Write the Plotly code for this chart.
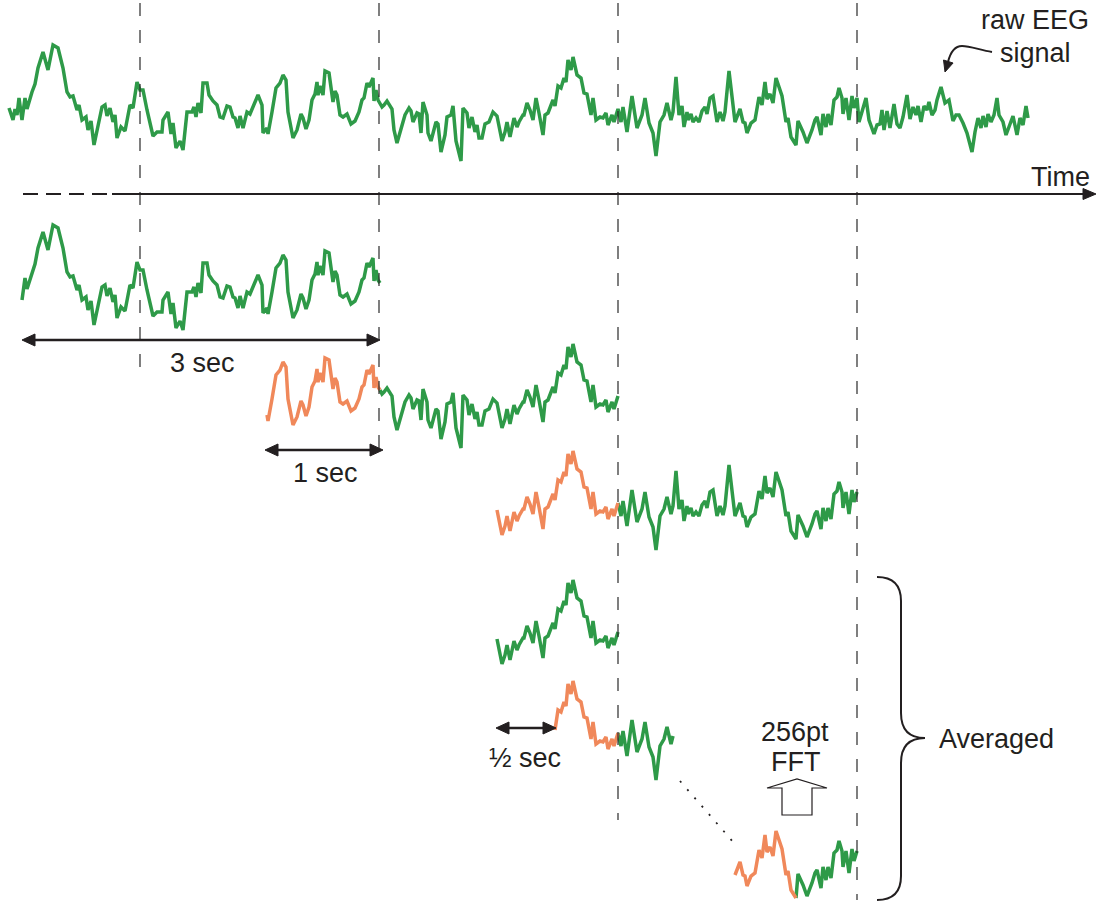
import plotly.graph_objects as go

# ---------------- data: raw EEG trace (time in ticks, 119.5 ticks = 1 sec; amplitude arbitrary units)
eeg_t = [9, 13, 15, 17, 19, 22, 25, 27, 32, 35, 38, 43, 48, 53, 58, 63, 67, 70, 73, 77, 79, 82, 86, 88, 91, 94,
         102, 105, 107, 110, 113, 115, 117, 121, 125, 130, 133, 137, 140, 143, 147, 153, 157, 162, 163, 168, 171,
         173, 176, 180, 183, 187, 192, 194, 196, 198, 201, 203, 207, 209, 213, 217, 220, 223, 227, 230, 233, 235,
         238, 240, 243, 247, 250, 254, 258, 262, 263, 267, 268, 272, 276, 280, 283, 286, 288, 293, 297, 301, 303,
         306, 309, 312, 315, 317, 318, 320, 323, 325, 329, 333, 335, 337, 340, 343, 347, 351, 355, 359, 362, 364,
         367, 369, 373, 374, 376, 378, 380, 382, 384, 387, 392, 394, 397, 402, 405, 409, 411, 413, 417, 419, 421,
         423, 427, 428, 431, 436, 438, 441, 445, 447, 451, 453, 456, 461, 463, 467, 469, 472, 475, 477, 479, 482,
         485, 489, 493, 497, 498, 502, 505, 507, 510, 514, 517, 519, 523, 524, 527, 530, 533, 536, 539, 543, 545,
         548, 553, 555, 558, 561, 564, 566, 568, 571, 573, 577, 581, 584, 587, 591, 593, 596, 600, 603, 606, 608,
         612, 614, 618, 621, 623, 627, 632, 637, 642, 645, 649, 653, 656, 660, 664, 667, 671, 673, 676, 679, 682,
         684, 687, 688, 691, 693, 696, 699, 702, 705, 707, 710, 713, 717, 720, 723, 725, 729, 735, 740, 743, 745,
         747, 751, 755, 759, 762, 765, 767, 770, 773, 776, 782, 786, 788, 791, 796, 798, 803, 807, 812, 815, 817,
         821, 823, 826, 828, 831, 834, 837, 839, 842, 843, 846, 849, 852, 854, 857, 859, 863, 866, 869, 874, 877,
         880, 882, 884, 887, 890, 894, 897, 900, 903, 907, 910, 913, 916, 918, 921, 924, 927, 929, 932, 935, 937,
         941, 945, 949, 953, 956, 959, 963, 967, 972, 975, 978, 981, 983, 986, 988, 991, 994, 997, 999, 1003,
         1006, 1010, 1013, 1017, 1020, 1023, 1026, 1028]
eeg_amp = [-8, -20, -9, -15, 2, -20, 2, -9, 8, 16, 32, 48, 30, 55, 52, 32, 8, 3, 4, -10, -5, -20, -17, -30, -21, -45,
           -7, -5, -16, -8, -22, -15, -38, -27, -31, -5, -8, 18, 10, 10, -10, -36, -32, -32, -20, -12, -34,
           -23, -48, -41, -50, -12, -12, -7, -17, -3, -13, 17, 17, 5, -1, -5, -17, -18, -6, -7, -17, -18,
           -28, -16, -28, -12, -14, -5, 5, -5, -33, -28, -34, -12, 12, 17, 25, 20, -12, -38, -30, -14, -18,
           -29, -20, 0, 6, 18, 5, 14, 5, 29, 27, -2, 9, 5, -15, -17, -14, -24, -21, -12, 0, 2,
           17, 13, 22, -1, 10, 0, -3, -7, -5, -1, -9, -30, -43, -27, -15, -8, -11, -22, -13, -14, -33,
           -2, -15, -33, -41, -22, -24, -52, -35, -17, -15, -6, -41, -61, -8, -13, -28, -17, -32, -25, -38, -38,
           -24, -22, -12, -16, -22, -41, -32, -22, -37, -18, -27, -22, -15, -15, -3, -10, -20, 2, -13, -35, -15,
           -13, 0, -6, 14, 12, 22, 18, 40, 30, 43, 25, 22, 7, 6, -15, 2, -20, -17, -18, -13, -25,
           -15, -22, -9, -22, -7, -32, 4, -28, -15, 2, -23, -33, -56, -22, -15, -3, -20, -12, 23, -15, -6,
           -27, -12, -20, -14, -22, -18, -22, -11, -7, -14, 2, 4, -22, -12, -21, -12, 29, -22, -9, -22, -23,
           -33, -23, -20, 3, -5, 18, 1, 6, -3, 22, 4, -22, -18, -37, -45, -21, -32, -43, -30, -20, -17,
           -35, -14, -27, -14, -25, 0, 3, 12, 2, -14, 2, -20, 4, -8, 2, -22, -7, 2, -20, -34, -25,
           -24, -10, -30, -11, -28, -4, -24, -28, -17, 5, -19, -7, -15, -6, -22, -6, -10, -2, -15, -10, 0,
           13, -3, 0, -21, -15, -15, -23, -33, -52, -32, -18, -28, -16, -27, -14, -22, -15, 2, -15, -22,
           -35, -25, -16, -35, -18, -25, -6, -18]

# ---------------- windows cut from the trace (ticks) and how far each copy is dropped
seg_start = [22, 265, 497, 497, 555, 735]
seg_split = [None, 380, 618, None, 618, 796]   # overlapping (orange) part ends here
seg_end = [380, 618, 857, 618, 675, 857]
seg_drop = [180, 287, 394, 523, 624, 753]

window_marks = [140, 379, 618, 857]
mark_bottom = [380, 452, 820, 900]

GREEN = "#2e9a48"
ORANGE = "#f0885a"
INK = "#231f20"
FONT = "Liberation Sans, Arial, sans-serif"


def A(ypx):
    """page row -> amplitude coordinate"""
    return 100 - ypx


fig = go.Figure()


def add_line(ts, amps, color):
    fig.add_trace(go.Scatter(x=ts, y=amps, mode="lines", line=dict(color=color, width=3.5),
                             hoverinfo="skip", showlegend=False))


# raw trace
add_line(eeg_t, eeg_amp, GREEN)

# segmented copies
for s, sp, e, d in zip(seg_start, seg_split, seg_end, seg_drop):
    pts = [(t, a - d) for t, a in zip(eeg_t, eeg_amp) if s <= t <= e]
    if sp is None:
        add_line([p[0] for p in pts], [p[1] for p in pts], GREEN)
    else:
        orange = [p for p in pts if p[0] <= sp]
        green = [orange[-1]] + [p for p in pts if p[0] > sp]
        add_line([p[0] for p in green], [p[1] for p in green], GREEN)
        add_line([p[0] for p in orange], [p[1] for p in orange], ORANGE)

shapes = []

# vertical dashed window markers
for xm, yb in zip(window_marks, mark_bottom):
    shapes.append(dict(type="line", x0=xm, x1=xm, y0=A(3), y1=A(yb),
                       line=dict(color="#2a2a2a", width=1.2, dash="13px,14px")))


def tri(tipx, tipy, dx, dy, L=13, W=6):
    # tip at (tipx,tipy) in page px; (dx,dy) unit direction of arrow (page px)
    bx, by = tipx - dx * L, tipy - dy * L
    px, py = -dy, dx
    p1 = (bx + px * W, by + py * W)
    p2 = (bx - px * W, by - py * W)
    return dict(type="path", path=f"M {tipx},{A(tipy)} L {p1[0]},{A(p1[1])} L {p2[0]},{A(p2[1])} Z",
                fillcolor=INK, line=dict(color=INK, width=1))


def dbl_arrow(x0, x1, y):
    shapes.append(dict(type="line", x0=x0 + 8, x1=x1 - 8, y0=A(y), y1=A(y), line=dict(color=INK, width=2.5)))
    shapes.append(tri(x0, y, -1, 0))
    shapes.append(tri(x1, y, 1, 0))


# time axis
shapes.append(dict(type="line", x0=23, x1=112, y0=A(194), y1=A(194),
                   line=dict(color=INK, width=1.8, dash="15px,8px")))
shapes.append(dict(type="line", x0=112, x1=1086, y0=A(194), y1=A(194), line=dict(color=INK, width=2)))
shapes.append(tri(1096, 194, 1, 0, L=13, W=5.5))

dbl_arrow(22, 380, 340)
dbl_arrow(265, 383, 450)
dbl_arrow(496, 556, 728)

# dotted connector
shapes.append(dict(type="line", x0=680, x1=734, y0=A(781), y1=A(843),
                   line=dict(color=INK, width=1.8, dash="2px,9px")))

# hollow up arrow (FFT)
shapes.append(dict(type="path",
                   path=f"M 782,{A(815)} L 782,{A(788)} L 767,{A(788)} L 797,{A(779)} L 827,{A(788)} "
                        f"L 812,{A(788)} L 812,{A(815)} Z",
                   line=dict(color=INK, width=1.2), fillcolor="white"))

# bracket
shapes.append(dict(type="path",
                   path=f"M 877,{A(577)} Q 901,{A(577)} 901,{A(601)} L 901,{A(713)} "
                        f"Q 901,{A(738)} 925,{A(738)} Q 901,{A(738)} 901,{A(763)} "
                        f"L 901,{A(876)} Q 901,{A(900)} 877,{A(900)}",
                   line=dict(color=INK, width=2)))

# curved pointer to raw signal
shapes.append(dict(type="path",
                   path=f"M 992,{A(52)} C 980,{A(50)} 970,{A(46)} 962,{A(46)} C 954,{A(46)} 950,{A(54)} 948,{A(62)}",
                   line=dict(color=INK, width=2)))
shapes.append(tri(945, 72, -0.3, 0.954, L=11, W=5))

texts = [
    ("raw EEG", 1035, 20, "center"),
    ("signal", 1035, 53, "center"),
    ("Time", 1060, 177, "center"),
    ("3 sec", 202, 363, "center"),
    ("1 sec", 325, 473, "center"),
    ("½ sec", 525, 758, "center"),
    ("256pt", 795, 732, "center"),
    ("FFT", 795, 762, "center"),
    ("Averaged", 937, 739, "left"),
]
annotations = [dict(text=t, x=x, y=A(y), xref="x", yref="y", showarrow=False, xanchor=anc, yanchor="middle",
                    font=dict(family=FONT, size=27, color=INK)) for t, x, y, anc in texts]

fig.update_layout(
    width=1096, height=902,
    margin=dict(l=0, r=0, t=0, b=0),
    paper_bgcolor="white", plot_bgcolor="white",
    xaxis=dict(range=[0, 1096], visible=False, fixedrange=True),
    yaxis=dict(range=[A(902), A(0)], visible=False, fixedrange=True),
    shapes=shapes, annotations=annotations,
)

fig.write_html("out.html", config={"displayModeBar": False},
               post_script="document.body.style.margin='0';document.body.style.overflow='hidden';")
